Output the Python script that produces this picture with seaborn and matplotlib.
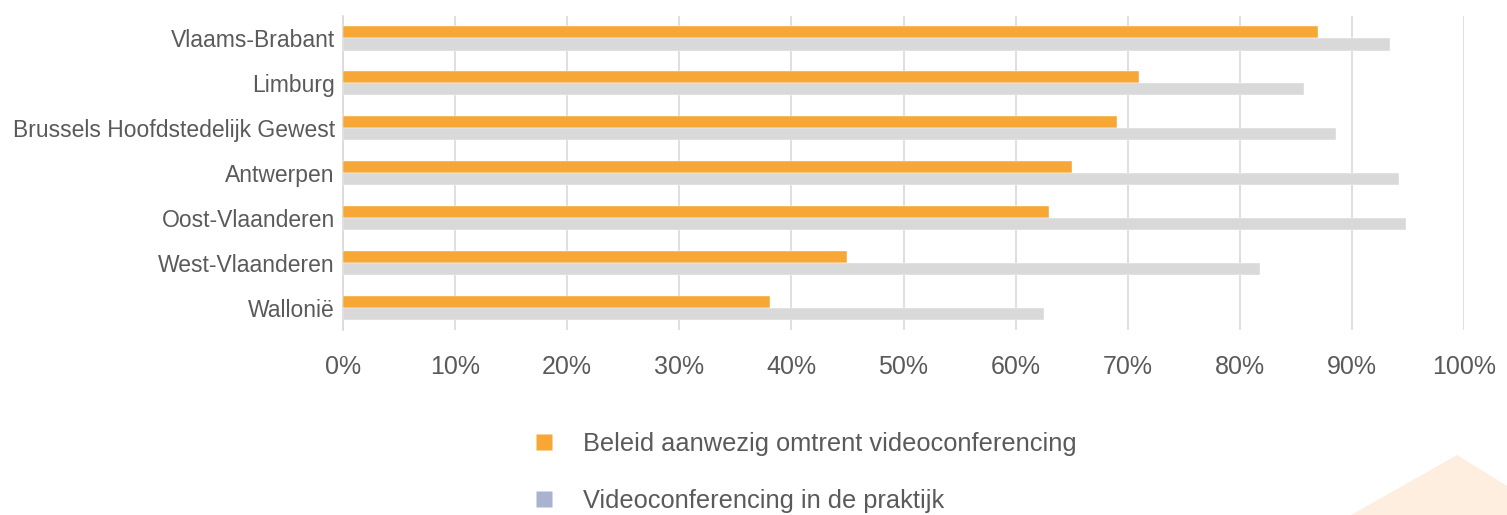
import numpy as np
import pandas as pd
import matplotlib.pyplot as plt
import seaborn as sns
from matplotlib.lines import Line2D
from matplotlib.patches import Polygon
from matplotlib.ticker import PercentFormatter

# -------------------- data --------------------
regions = [
    "Vlaams-Brabant",
    "Limburg",
    "Brussels Hoofdstedelijk Gewest",
    "Antwerpen",
    "Oost-Vlaanderen",
    "West-Vlaanderen",
    "Wallonië",
]
beleid = [87.0, 71.0, 69.0, 65.0, 63.0, 45.0, 38.1]
praktijk = [93.4, 85.7, 88.6, 94.2, 94.8, 81.8, 62.5]
series_names = [
    "Beleid aanwezig omtrent videoconferencing",
    "Videoconferencing in de praktijk",
]
x_ticks = list(range(0, 101, 10))

ORANGE = "#f6a735"
GRAY_BAR = "#d9d9d9"
GRAY_LEGEND = "#a9b3cf"
TEXT = "#5a5a5a"

sns.set_theme(style="white")
plt.rcParams["font.family"] = ["Liberation Sans", "DejaVu Sans"]

df = pd.DataFrame({
    "regio": regions * 2,
    "waarde": beleid + praktijk,
    "reeks": [series_names[0]] * len(regions) + [series_names[1]] * len(regions),
})

fig = plt.figure(figsize=(15.07, 5.15), dpi=100)
ax = fig.add_axes([0.2276, 0.359, 0.7439, 0.610])

# decoratieve vorm rechtsonder
W, H = 1507, 515
pts = [(1351, 515), (1457, 455), (1507, 486), (1507, 515)]
fig.patches.append(Polygon([(x / W, 1 - y / H) for x, y in pts], closed=True,
                           transform=fig.transFigure, facecolor="#fdeee0",
                           edgecolor="none", zorder=0))

sns.barplot(data=df, y="regio", x="waarde", hue="reeks", orient="h",
            palette=[ORANGE, GRAY_BAR], saturation=1, width=0.54, ax=ax,
            legend=False, edgecolor="white", linewidth=0.3, zorder=3)

ax.set_xlim(0, 100)
ax.set_xticks(x_ticks)
ax.xaxis.set_major_formatter(PercentFormatter(decimals=0))
ax.set_xlabel("")
ax.set_ylabel("")
ax.grid(axis="x", color="#d9d9d9", linewidth=1.2, zorder=0)
ax.set_axisbelow(True)
for side in ["top", "right", "bottom"]:
    ax.spines[side].set_visible(False)
ax.spines["left"].set_color("#d9d9d9")
ax.spines["left"].set_linewidth(1.2)
ax.tick_params(axis="x", length=0, pad=18, labelsize=18, labelcolor=TEXT)
ax.tick_params(axis="y", length=0, pad=6, labelsize=16.5, labelcolor=TEXT)

handles = [
    Line2D([], [], linestyle="none", marker="s", markersize=12,
           markerfacecolor=ORANGE, markeredgecolor="none"),
    Line2D([], [], linestyle="none", marker="s", markersize=12,
           markerfacecolor=GRAY_LEGEND, markeredgecolor="none"),
]
fig.legend(handles, series_names, loc="upper left",
           bbox_to_anchor=(0.3374, 0.2058), frameon=False, fontsize=18.3,
           labelcolor=TEXT, handlelength=1.0, handletextpad=1.04,
           labelspacing=1.3)

fig.savefig("out.png", dpi=100, facecolor="white")
plt.close(fig)
